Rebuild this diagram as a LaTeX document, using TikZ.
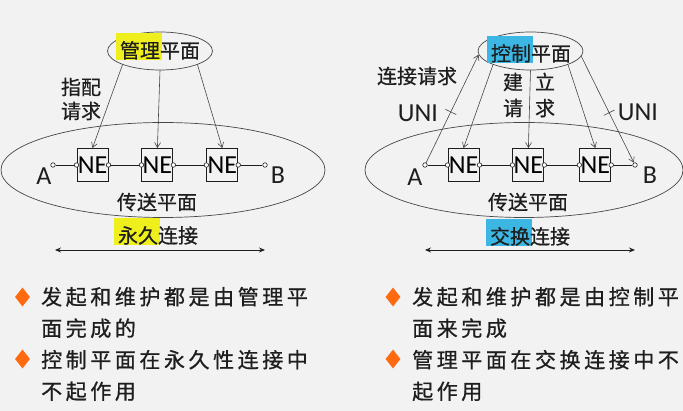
\documentclass[tikz,border=0pt]{standalone}
\usepackage{fontspec}
\usepackage{xcolor}
\usepackage{tikz}
\usetikzlibrary{arrows.meta,positioning,shapes.geometric}
\newfontfamily\cjkfont{Noto Sans CJK SC}[FakeBold=0.6]
\newfontfamily\bodyfont{Noto Sans CJK SC}[LetterSpace=17,FakeBold=0.8]
\newfontfamily\latinfont{Carlito}
\definecolor{plPaper}{HTML}{F2F2F2}
\definecolor{plInk}{HTML}{1E1E1E}
\definecolor{plLine}{HTML}{474747}
\definecolor{plYellow}{HTML}{EFEF1E}
\definecolor{plCyan}{HTML}{3CB6E3}
\definecolor{plOrange}{HTML}{FF6A10}
% marker pen behind the first words of a label
\newcommand\planemark[2]{\setbox0=\hbox{#2}%
  \rlap{\hspace*{-4pt}\textcolor{#1}{\rule[-2pt]{\dimexpr\wd0+6pt\relax}{27pt}}}\box0}
\tikzset{
  plane ellipse/.style={ellipse,draw=plLine,line width=0.7pt,inner sep=0pt},
  plane text/.style={font=\cjkfont\fontsize{20}{24}\selectfont,text=plInk,inner sep=0pt},
  latin text/.style={font=\latinfont\fontsize{26}{28}\selectfont,text=plInk,inner sep=0pt},
  ne box/.style={draw=plInk,line width=0.9pt,minimum width=31pt,minimum height=33pt,
    inner sep=0pt,font=\latinfont\fontsize{26}{28}\selectfont},
  port/.style={circle,draw=plInk,fill=white,inner sep=0pt,minimum size=4.5pt,line width=0.6pt},
  link/.style={draw=plInk,line width=0.9pt},
  signal arrow/.style={-{Straight Barb[length=5pt,width=6pt]},draw=plLine,line width=0.6pt},
  uni tick/.style={draw=plLine,line width=0.6pt,minimum width=0pt,minimum height=12pt,
    inner sep=0pt,sloped},
  span arrow/.style={{Stealth[length=6pt,width=5pt]}-{Stealth[length=6pt,width=5pt]},
    draw=plInk,line width=0.8pt},
  bullet/.style={diamond,fill=plOrange,inner sep=0pt,minimum width=15pt,minimum height=19pt},
  item text/.style={font=\bodyfont\fontsize{21}{31.5}\selectfont,text=plInk,align=left,
    inner sep=0pt,anchor=west}
}
\begin{document}
\begin{tikzpicture}[x=1pt,y=-1pt]
\useasboundingbox (0,0) rectangle (683,411);
\fill[plPaper] (0,0) rectangle (683,411);

% permanent connection
\node[plane ellipse,minimum width=324pt,minimum height=95pt] (tpL) at (163,170) {};
\node[plane ellipse,minimum width=105pt,minimum height=38pt] (mgmt) at (160,51) {};
\node[plane text,anchor=base] (mgmtName) at (160,58) {\planemark{plYellow}{管理}平面};
\node[ne box] (neL1) at (92.5,165) {NE};
\node[ne box,right=33pt of neL1] (neL2) {NE};
\node[ne box,right=33pt of neL2] (neL3) {NE};
\node[port] (pA1) at (53,165) {};
\node[port] (pB1) at (265,165) {};
\draw[link] (pA1) -- (neL1) -- (neL2) -- (neL3) -- (pB1);
\foreach \b in {neL1,neL2,neL3} {
  \node[port] (\b-w) at (\b.west) {};
  \node[port] (\b-e) at (\b.east) {};
}
\node[latin text] (labA1) at (44,176) {A};
\node[latin text] (labB1) at (278,175) {B};
\draw[signal arrow] (mgmt.200) -- (neL1.north);
\draw[signal arrow] (mgmt.south) -- (neL2.north);
\draw[signal arrow] (mgmt.-20) -- (neL3.north);
\node[plane text,align=center] (assign) at (81,99) {指配\\请求};
\node[plane text] (tpLname) at (157,202) {传送平面};
\node[plane text,anchor=base] (permName) at (158,243) {\planemark{plYellow}{永久}连接};
\coordinate (spanL1) at (55,250);
\coordinate (spanL2) at (265,250);
\draw[span arrow] (spanL1) -- (spanL2);

% switched connection
\node[plane ellipse,minimum width=318pt,minimum height=95pt] (tpR) at (524,170) {};
\node[plane ellipse,minimum width=105pt,minimum height=38pt] (ctrl) at (530.5,51) {};
\node[plane text,anchor=base] (ctrlName) at (531,61) {\planemark{plCyan}{控制}平面};
\node[ne box] (neR1) at (463.5,165) {NE};
\node[ne box,right=33pt of neR1] (neR2) {NE};
\node[ne box,right=35pt of neR2] (neR3) {NE};
\node[port] (pA2) at (425,165) {};
\node[port] (pB2) at (635,165) {};
\draw[link] (pA2) -- (neR1) -- (neR2) -- (neR3) -- (pB2);
\foreach \b in {neR1,neR2,neR3} {
  \node[port] (\b-w) at (\b.west) {};
  \node[port] (\b-e) at (\b.east) {};
}
\node[latin text] (labA2) at (415,177) {A};
\node[latin text] (labB2) at (650,175) {B};
\draw[signal arrow] (pA2) -- node[uni tick,pos=0.47] (tickA) {} (ctrl.184);
\draw[signal arrow] (ctrl.-6) -- node[uni tick,pos=0.53] (tickB) {} (pB2);
\draw[signal arrow] (ctrl.200) -- (neR1.north);
\draw[signal arrow] (ctrl.south) -- (neR2.north);
\draw[signal arrow] (ctrl.-20) -- (neR3.north);
\node[plane text] (request) at (417,76) {连接请求};
\node[latin text] (uniA) at (418,113) {UNI};
\node[latin text] (uniB) at (638,112) {UNI};
\node[plane text,align=center,font=\cjkfont\fontsize{20}{26}\selectfont] (setupL) at (513,95) {建\\请};
\node[plane text,align=center,font=\cjkfont\fontsize{20}{26}\selectfont] (setupR) at (545,95) {立\\求};
\node[plane text] (tpRname) at (528,202) {传送平面};
\node[plane text,anchor=base] (swName) at (530,244) {\planemark{plCyan}{交换}连接};
\coordinate (spanR1) at (425,250);
\coordinate (spanR2) at (635,250);
\draw[span arrow] (spanR1) -- (spanR2);

% notes
\node[bullet] (dotL1) at (22.5,297) {};
\node[item text] (itemL1) at (41,312.5) {发起和维护都是由管理平\\面完成的};
\node[bullet] (dotL2) at (22.5,359) {};
\node[item text] (itemL2) at (41,375.5) {控制平面在永久性连接中\\不起作用};
\node[bullet] (dotR1) at (393,297) {};
\node[item text] (itemR1) at (412,312.5) {发起和维护都是由控制平\\面来完成};
\node[bullet] (dotR2) at (393,359) {};
\node[item text] (itemR2) at (412,375.5) {管理平面在交换连接中不\\起作用};
\end{tikzpicture}
\end{document}
